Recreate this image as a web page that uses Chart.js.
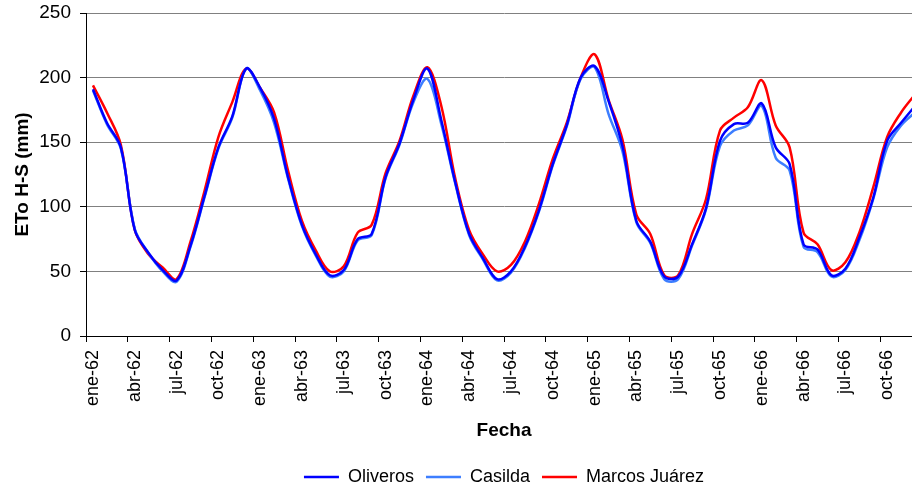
<!DOCTYPE html>
<html>
<head>
<meta charset="utf-8">
<script src="https://cdn.jsdelivr.net/npm/chart.js@4.4.1/dist/chart.umd.min.js"></script>
<style>
  html, body { margin: 0; padding: 0; background: #fff; overflow: hidden; }
  #wrap { width: 922px; height: 486px; }
</style>
</head>
<body>
<div id="wrap"><canvas id="etoChart" width="922" height="486"></canvas></div>
<script>
// Meses (categorías) ene-62 ... dic-66
const categories = [
  "ene-62","feb-62","mar-62","abr-62","may-62","jun-62","jul-62","ago-62","sep-62","oct-62","nov-62","dic-62",
  "ene-63","feb-63","mar-63","abr-63","may-63","jun-63","jul-63","ago-63","sep-63","oct-63","nov-63","dic-63",
  "ene-64","feb-64","mar-64","abr-64","may-64","jun-64","jul-64","ago-64","sep-64","oct-64","nov-64","dic-64",
  "ene-65","feb-65","mar-65","abr-65","may-65","jun-65","jul-65","ago-65","sep-65","oct-65","nov-65","dic-65",
  "ene-66","feb-66","mar-66","abr-66","may-66","jun-66","jul-66","ago-66","sep-66","oct-66","nov-66","dic-66"
];

// Etiquetas del eje X (una cada tres meses)
const tickLabels = [
  "ene-62","abr-62","jul-62","oct-62","ene-63","abr-63","jul-63","oct-63","ene-64","abr-64",
  "jul-64","oct-64","ene-65","abr-65","jul-65","oct-65","ene-66","abr-66","jul-66","oct-66"
];

// ETo Hargreaves-Samani mensual (mm)
const oliveros = [
  191,165,146,82,64,51,43,70,108,146,
  170,207,192,168,123,86,63,47,51,75,
  79,123,149,183,207,167,119,79,60,44,
  50,69,97,133,163,200,209,182,147,89,
  73,46,46,71,99,151,164,165,180,146,
  133,71,67,47,52,76,107,151,165,178
];
const casilda = [
  190,164,145,83,64,50,42,69,107,145,
  169,207,190,165,122,85,62,46,50,74,
  78,122,148,181,199,164,118,78,59,43,
  49,68,96,132,162,199,208,172,143,88,
  72,44,44,70,98,147,159,163,178,138,
  128,69,65,46,51,74,106,146,163,173
];
const marcosJuarez = [
  194,173,148,82,63,53,44,73,112,154,
  181,207,192,173,128,89,66,50,54,80,
  86,126,151,186,208,178,122,82,63,50,
  55,73,102,137,165,200,218,183,152,94,
  79,47,47,79,106,159,169,177,198,163,
  146,80,71,51,57,80,115,154,173,187
];

const yTicks = [0, 50, 100, 150, 200, 250];

// Plugin pequeño para mover la leyenda como en el original
const legendShift = {
  id: "legendShift",
  afterLayout(chart) {
    const lg = chart.legend;
    if (!lg) return;
    lg.left += 43; lg.right += 43;
    lg.top += 10; lg.bottom += 10;
  }
};

const ctx = document.getElementById("etoChart").getContext("2d");
const chart = new Chart(ctx, {
  type: "line",
  data: {
    labels: categories,
    datasets: [
      { label: "Oliveros", data: oliveros, borderColor: "#0000FF", backgroundColor: "#0000FF", borderWidth: 2.5 },
      { label: "Casilda", data: casilda, borderColor: "#3D7EFF", backgroundColor: "#3D7EFF", borderWidth: 2.5 },
      { label: "Marcos Juárez", data: marcosJuarez, borderColor: "#FF0000", backgroundColor: "#FF0000", borderWidth: 2.5 }
    ]
  },
  options: {
    responsive: false,
    animation: false,
    layout: { padding: { top: 13, left: 0, right: 0, bottom: 0 } },
    elements: {
      line: { tension: 0.35 },
      point: { radius: 0 }
    },
    scales: {
      x: {
        type: "category",
        offset: true,
        grid: {
          offset: true,
          drawOnChartArea: false,
          drawTicks: true,
          tickLength: 6,
          tickColor: c => (c.index % 3 === 0 ? "#000" : "rgba(0,0,0,0)")
        },
        border: { color: "#000", width: 1 },
        ticks: {
          autoSkip: false,
          minRotation: 90,
          maxRotation: 90,
          padding: 8,
          color: "#000",
          font: { family: "'Liberation Sans', Arial", size: 18 },
          callback: (val, i) => (i % 3 === 0 ? tickLabels[i / 3] : "")
        },
        title: {
          display: true,
          text: "Fecha",
          color: "#000",
          font: { family: "'Liberation Sans', Arial", size: 19, weight: "bold" },
          padding: { top: 0, bottom: 4 }
        },
        afterFit: s => {
          s.height = 110;
          s.paddingLeft = 0;
          s.paddingRight = 0;
        }
      },
      y: {
        min: 0,
        max: 250,
        afterBuildTicks: s => { s.ticks = yTicks.map(v => ({ value: v })); },
        grid: { color: "#808080", tickColor: "#000", tickLength: 6 },
        border: { color: "#000", width: 1 },
        ticks: {
          padding: 9,
          color: "#000",
          font: { family: "'Liberation Sans', Arial", size: 19 }
        },
        title: {
          display: true,
          text: "ETo H-S (mm)",
          color: "#000",
          font: { family: "'Liberation Sans', Arial", size: 19, weight: "bold" },
          padding: { top: 11, bottom: 0 }
        },
        afterFit: s => {
          s.width = 86;
          s.paddingTop = 0;
          s.paddingBottom = 0;
        }
      }
    },
    plugins: {
      legend: {
        position: "bottom",
        labels: {
          usePointStyle: true,
          pointStyle: "line",
          pointStyleWidth: 35,
          padding: 12,
          color: "#000",
          font: { family: "'Liberation Sans', Arial", size: 18 }
        }
      },
      tooltip: { enabled: false }
    }
  },
  plugins: [legendShift]
});
</script>
</body>
</html>
